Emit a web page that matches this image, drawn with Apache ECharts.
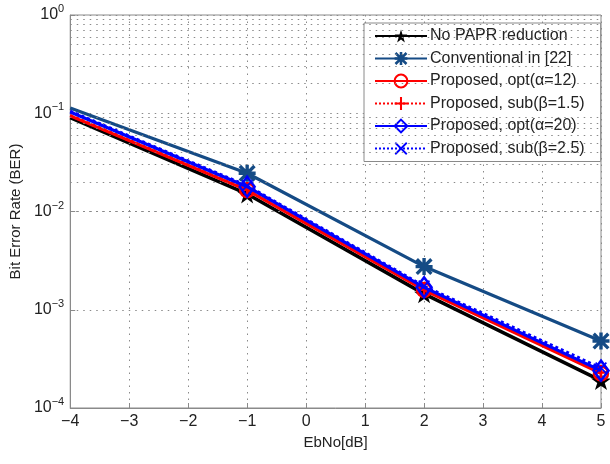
<!DOCTYPE html>
<html>
<head>
<meta charset="utf-8">
<script src="https://cdn.jsdelivr.net/npm/echarts@6/dist/echarts.min.js"></script>
<style>
html,body{margin:0;padding:0;background:#fff;}
#c{width:610px;height:464px;}
</style>
</head>
<body>
<div id="c"></div>
<script>
// ---- data ----
const xValues = [-4, -1, 2, 5];
const xTicks = [-4, -3, -2, -1, 0, 1, 2, 3, 4, 5];
const yTickExponents = [-4, -3, -2, -1, 0];
const noPapr       = [0.090, 0.0151, 0.00145, 0.000190];
const conventional = [0.113, 0.0245, 0.00275, 0.00048];
const optAlpha12   = [0.094, 0.0165, 0.00159, 0.000225];
const subBeta15    = [0.095, 0.0167, 0.00161, 0.000230];
const optAlpha20   = [0.103, 0.0179, 0.00169, 0.000240];
const subBeta25    = [0.105, 0.0183, 0.00174, 0.000255];
const seriesNames = [
  'No PAPR reduction',
  'Conventional in [22]',
  'Proposed, opt(\u03b1=12)',
  'Proposed, sub(\u03b2=1.5)',
  'Proposed, opt(\u03b1=20)',
  'Proposed, sub(\u03b2=2.5)'
];

const STAR = 'path://M50,0 L61,35 L98,35 L68,57 L79,91 L50,70 L21,91 L32,57 L2,35 L39,35 Z';
const ASTER = 'path://M0,40 L100,40 L100,60 L0,60 Z M40,0 L60,0 L60,100 L40,100 Z M14,0 L100,86 L86,100 L0,14 Z M86,0 L100,14 L14,100 L0,86 Z';
const PLUS = 'path://M0,42 L100,42 L100,58 L0,58 Z M42,0 L58,0 L58,100 L42,100 Z';
const CROSS = 'path://M10,0 L100,90 L90,100 L0,10 Z M90,0 L100,10 L10,100 L0,90 Z';

function build(vals) {
  return xValues.map((x, i) => i === 0 ? {value: [x, vals[i]], symbol: 'none'} : [x, vals[i]]);
}

const minorGrid = [];
for (let e = -4; e <= -1; e++) {
  for (let m = 2; m <= 9; m++) minorGrid.push({yAxis: m * Math.pow(10, e)});
}

const chart = echarts.init(document.getElementById('c'), null, {renderer: 'canvas'});
const font = 'Liberation Sans, Arial, sans-serif';
const dotted = {color: '#8a8a8a', type: [1.5, 5], width: 1};

function mk(name, vals, color, type, width, symbol, size, fill, bw, z) {
  return {
    name: name, type: 'line', data: build(vals), z: z,
    symbol: symbol, symbolSize: size, symbolKeepAspect: true,
    lineStyle: {color: color, width: width, type: type},
    itemStyle: {color: fill, borderColor: color, borderWidth: bw},
    emphasis: {disabled: true}, animation: false
  };
}

const option = {
  animation: false,
  textStyle: {fontFamily: font},
  grid: {left: 67, right: 9, top: 15, bottom: 56, show: true, borderColor: '#8a8a8a', borderWidth: 1, backgroundColor: '#fff'},
  xAxis: {
    type: 'value', min: -4, max: 5, interval: 1,
    name: 'EbNo[dB]', nameLocation: 'middle', nameGap: 26,
    nameTextStyle: {fontSize: 15, color: '#222', fontFamily: font},
    axisLine: {show: true, onZero: false, lineStyle: {color: '#8a8a8a'}},
    axisTick: {inside: true, length: 5, lineStyle: {color: '#8a8a8a'}},
    axisLabel: {fontSize: 16, color: '#222', margin: 6,
      formatter: v => (v < 0 ? '\u2212' + Math.abs(v) : String(v))},
    splitLine: {show: true, lineStyle: dotted}
  },
  yAxis: {
    type: 'log', logBase: 10, min: 1e-4, max: 1,
    name: 'Bit Error Rate (BER)', nameLocation: 'middle', nameGap: 34,
    nameTextStyle: {fontSize: 15, color: '#222', fontFamily: font},
    axisLine: {show: true, onZero: false, lineStyle: {color: '#8a8a8a'}},
    axisTick: {inside: true, length: 5, lineStyle: {color: '#8a8a8a'}},
    axisLabel: {margin: 6, color: '#222',
      formatter: v => {
        const e = Math.round(Math.log10(v));
        return '{b|10}{s|' + (e < 0 ? '\u2212' + Math.abs(e) : e) + '}';
      },
      rich: {
        b: {fontSize: 16, color: '#222', fontFamily: font},
        s: {fontSize: 11, color: '#222', fontFamily: font, padding: [0, 0, 12, 0]}
      }
    },
    splitLine: {show: true, lineStyle: dotted}
  },
  legend: {
    orient: 'vertical', left: 364, top: 23,
    backgroundColor: '#fff', borderColor: '#8a8a8a', borderWidth: 1,
    padding: [5, 16, 5, 10], itemGap: 6.5, itemWidth: 52, itemHeight: 16,
    textStyle: {fontSize: 16, color: '#222', fontFamily: font, padding: [0, 0, 0, -2]},
    data: seriesNames
  },
  series: [
    {type: 'line', data: [], silent: true, z: 1,
     markLine: {silent: true, symbol: 'none', label: {show: false}, lineStyle: dotted, data: minorGrid, animation: false}},
    mk(seriesNames[0], noPapr, '#000000', 'solid', 3.5, STAR, 20, '#000000', 0, 2),
    mk(seriesNames[1], conventional, '#154b85', 'solid', 3.2, ASTER, 17, '#154b85', 0, 3),
    mk(seriesNames[2], optAlpha12, '#ff0000', 'solid', 3.2, 'circle', 14, 'rgba(0,0,0,0)', 2.5, 4),
    mk(seriesNames[3], subBeta15, '#ff0000', 'dotted', 3, PLUS, 15, '#ff0000', 0, 5),
    mk(seriesNames[4], optAlpha20, '#0000ff', 'solid', 3.2, 'diamond', [15, 20], 'rgba(0,0,0,0)', 2.5, 6),
    mk(seriesNames[5], subBeta25, '#0000ff', 'dotted', 3, CROSS, 12, '#0000ff', 0, 7)
  ]
};
chart.setOption(option);
</script>
</body>
</html>
